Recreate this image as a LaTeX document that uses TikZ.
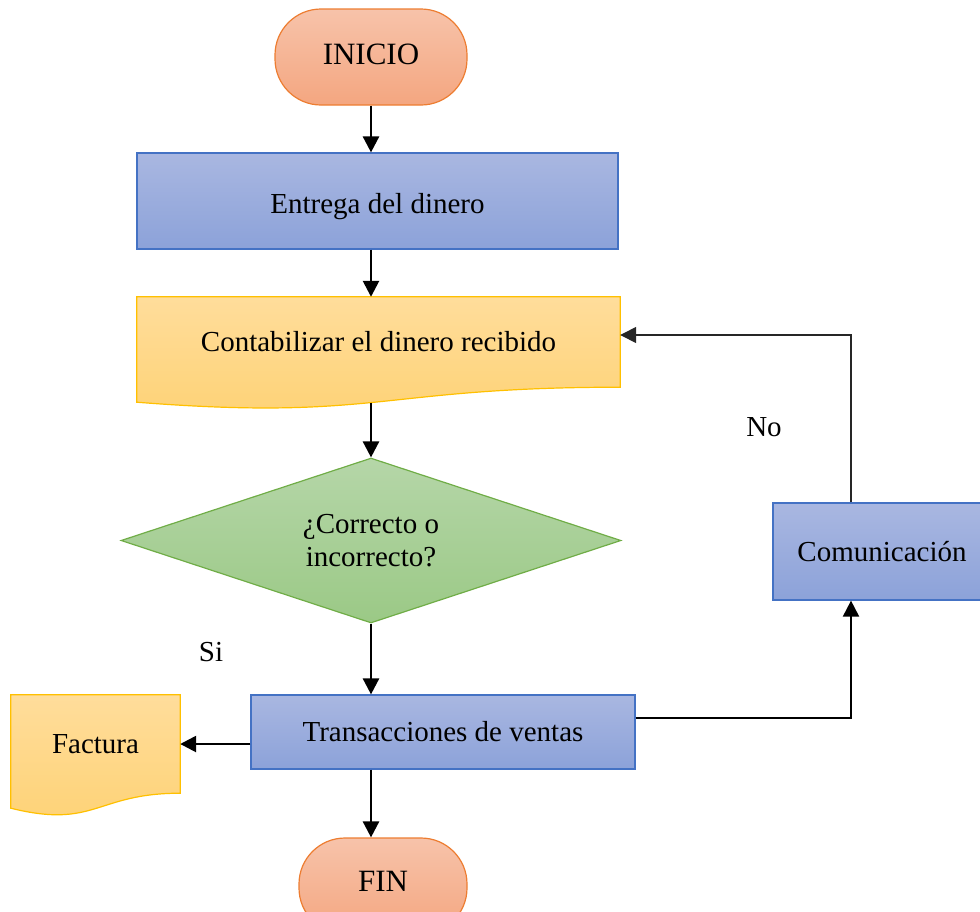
\documentclass[tikz,border=0pt]{standalone}
\usepackage{fontspec}
\setmainfont{Liberation Serif}
\usetikzlibrary{shapes.geometric,arrows.meta,backgrounds,calc}

\definecolor{termtop}{HTML}{F7C3AA}
\definecolor{termbot}{HTML}{F4A680}
\definecolor{termline}{HTML}{ED7D31}
\definecolor{proctop}{HTML}{A9B7E1}
\definecolor{procbot}{HTML}{8CA2D9}
\definecolor{procline}{HTML}{4472C4}
\definecolor{doctop}{HTML}{FFDD9B}
\definecolor{docbot}{HTML}{FED275}
\definecolor{docline}{HTML}{FFC000}
\definecolor{dectop}{HTML}{B5D6A8}
\definecolor{decbot}{HTML}{9BC986}
\definecolor{decline}{HTML}{70AD47}

\begin{document}
\begin{tikzpicture}[x=1pt,y=-1pt,
  every node/.style={font=\fontsize{29}{35}\selectfont, text=black},
  termbox/.style={rectangle, rounded corners=46pt, draw=termline, line width=1.2pt,
    top color=termtop, bottom color=termbot, inner sep=0pt,
    font=\fontsize{31}{35}\selectfont},
  procbox/.style={rectangle, draw=procline, line width=1.2pt,
    top color=proctop, bottom color=procbot, inner sep=0pt},
  docarea/.style={rectangle, inner sep=0pt},
  docfill/.style={draw=docline, line width=1.2pt, top color=doctop, bottom color=docbot},
  decbox/.style={diamond, draw=decline, line width=1.2pt, top color=dectop,
    bottom color=decbot, inner sep=0pt, align=center, shape aspect=3.03},
  flow/.style={line width=2.6pt, -{Triangle[width=16pt,length=16pt]}},
  thinflow/.style={line width=1.4pt, draw=black!85, -{Triangle[width=16pt,length=16pt]}},
  lbl/.style={inner sep=0pt}]

\useasboundingbox (0,0) rectangle (980,911);
\clip (0,0) rectangle (980,911);

% terminals and process boxes
\node[termbox, minimum width=192pt, minimum height=96pt, text depth=6pt] (ini) at (371,57) {INICIO};
\node[procbox, minimum width=481pt, minimum height=96pt, text height=31pt] (ent) at (377.5,201) {Entrega del dinero};

% document: Contabilizar
\node[docarea, minimum width=483pt, minimum height=90pt] (cont) at (378.5,342)
  {Contabilizar el dinero recibido};
\begin{scope}[on background layer]
  \path[docfill] (cont.north west) -- (cont.north east) -- (cont.south east)
    .. controls (cont.south) and ($(cont.south)+(0,34)$) ..
    node[coordinate, pos=0.52] (cb) {}
    ($(cont.south west)+(0,15)$) -- cycle;
\end{scope}

% decision
\node[decbox, minimum width=500pt, minimum height=165pt] (dec) at (371,540.5)
  {\raisebox{-2pt}{¿Correcto o}\\incorrecto?};

\node[procbox, minimum width=384pt, minimum height=74pt] (tv) at (443,732)
  {Transacciones de ventas};

% document: Factura
\node[docarea, minimum width=169pt, minimum height=98pt] (fac) at (95.5,744) {Factura};
\begin{scope}[on background layer]
  \path[docfill] (fac.north west) -- (fac.north east) -- (fac.south east)
    .. controls (fac.south) and ($(fac.south)+(0,36)$) ..
    ($(fac.south west)+(0,15)$) -- cycle;
\end{scope}

\node[termbox, minimum width=168pt, minimum height=96pt, text depth=9pt] (fin) at (383,886) {FIN};

\node[procbox, minimum width=218pt, minimum height=97pt] (com) at (882,551.5) {Comunicación};

% labels
\node[lbl] (si) at (211,652) {Si};
\node[lbl] (no) at (764,427) {No};

% loop column
\coordinate (loop) at (851,0);

% connectors
\draw[flow] (ini.south) -- (ini.south |- ent.north);
\draw[flow] (ini.south |- ent.south) -- (ini.south |- cont.north);
\draw[flow] (ini.south |- cb) -- (dec.north);
\draw[flow] (dec.south) -- (dec.south |- tv.north);
\draw[flow] (tv.west |- fac.east) -- (fac.east);
\draw[flow] (dec.south |- tv.south) -- (dec.south |- fin.north);
\draw[flow, line width=2pt] ([yshift=14pt]tv.east) -| (loop |- com.south);
\draw[thinflow] (loop |- com.north) |- ([yshift=7pt]cont.east);

\end{tikzpicture}
\end{document}
